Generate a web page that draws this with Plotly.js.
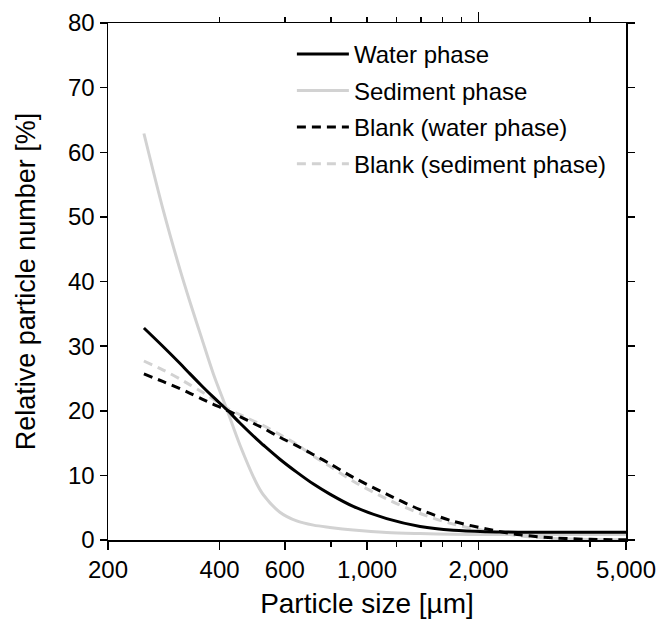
<!DOCTYPE html>
<html>
<head>
<meta charset="utf-8">
<script src="https://cdn.plot.ly/plotly-3.0.1.min.js"></script>
<style>html,body{margin:0;padding:0;background:#fff;}#chart{width:660px;height:622px;}</style>
</head>
<body>
<div id="chart"></div>
<script>
// Particle size [µm]
const sizes = [250, 282, 313, 333, 359, 385, 418, 454, 504, 525, 582, 646, 717, 794, 918, 1130, 1391, 1710, 2104, 2590, 3200, 4000, 5000];

// Relative particle number [%]
const waterPhase    = [32.8, 29.9, 27.3, 25.7, 23.8, 22.1, 20.2, 18.1, 15.6, 14.7, 12.5, 10.5, 8.65, 7.1, 5.2, 3.3, 2.1, 1.5, 1.28, 1.21, 1.2, 1.2, 1.2];
const sedimentPhase = [62.9, 51.0, 41.8, 36.8, 31.0, 25.7, 20.3, 14.7, 8.7, 7.0, 4.3, 2.95, 2.3, 1.95, 1.55, 1.16, 1.0, 0.9, 0.85, 0.85, 0.85, 0.85, 0.85];
const blankWater    = [25.7, 24.5, 23.4, 22.7, 21.8, 21.0, 20.1, 19.1, 17.8, 17.3, 15.9, 14.6, 13.2, 11.8, 9.7, 7.1, 4.7, 2.9, 1.7, 0.8, 0.32, 0.1, 0.03];
const blankSediment = [27.7, 26.3, 24.9, 24.0, 22.9, 21.8, 20.4, 19.4, 18.2, 17.7, 16.3, 14.8, 13.0, 11.4, 9.1, 6.35, 4.1, 2.45, 1.4, 0.65, 0.25, 0.08, 0.03];

const seriesNames = ['Water phase', 'Sediment phase', 'Blank (water phase)', 'Blank (sediment phase)'];

const xTickVals = [200, 400, 600, 1000, 2000, 5000];
const xTickText = ['200', '400', '600', '1,000', '2,000', '5,000'];
const xMinorVals = [800, 1200, 1400, 1600, 1800, 4000];
const xTopTickVals = [2000];
const xTopMinorVals = [400, 600, 800, 1000, 1200, 1400, 1600, 1800, 4000];
const xRange = [200, 5000];
const yRange = [0, 80];

const gray = '#d2d2d2';
const lineW = 3;
const smooth = {shape: 'spline', smoothing: 0.9};

const traces = [
  {x: sizes, y: waterPhase, name: seriesNames[0], mode: 'lines',
   line: Object.assign({color: '#000', width: lineW}, smooth)},
  {x: sizes, y: sedimentPhase, name: seriesNames[1], mode: 'lines',
   line: Object.assign({color: gray, width: lineW}, smooth)},
  {x: sizes, y: blankWater, name: seriesNames[2], mode: 'lines',
   line: Object.assign({color: '#000', width: lineW, dash: '9px,6px'}, smooth)},
  {x: sizes, y: blankSediment, name: seriesNames[3], mode: 'lines',
   line: Object.assign({color: gray, width: lineW, dash: '9px,6px'}, smooth)}
];
traces.forEach((t, i) => { t.legendgroup = 'g' + i; t.legendrank = i + 1; t.hoverinfo = 'skip'; });
// draw the grey lines first so the black lines lie on top
const order = [traces[1], traces[3], traces[0], traces[2]];
// invisible helper so the top (mirrored) axis gets drawn
order.push({x: xRange, y: yRange, xaxis: 'x2', yaxis: 'y', mode: 'markers',
            marker: {opacity: 0}, showlegend: false, hoverinfo: 'skip'});

const font = {family: '"Liberation Sans", Arial, sans-serif', color: '#000'};

const layout = {
  width: 660, height: 622,
  margin: {l: 108, r: 34, t: 23, b: 82},
  paper_bgcolor: '#fff', plot_bgcolor: '#fff',
  font: Object.assign({size: 24}, font),
  showlegend: true,
  legend: {
    x: 0.355, y: 0.983, xanchor: 'left', yanchor: 'top',
    bgcolor: 'rgba(0,0,0,0)', borderwidth: 0,
    font: Object.assign({size: 24}, font),
    itemwidth: 52, traceorder: 'grouped', tracegroupgap: 2.4
  },
  xaxis: {
    type: 'log', range: xRange.map(Math.log10),
    tickmode: 'array', tickvals: xTickVals, ticktext: xTickText,
    ticks: 'outside', ticklen: 8, tickwidth: 1.5, tickcolor: '#000',
    minor: {tickmode: 'array', tickvals: xMinorVals, ticks: 'outside', ticklen: 5, tickwidth: 1.5, tickcolor: '#000', showgrid: false},
    showline: true, linecolor: '#000', linewidth: 1.5, mirror: false,
    showgrid: false, zeroline: false,
    tickfont: Object.assign({size: 24}, font),
    title: {text: 'Particle size [µm]', font: Object.assign({size: 28}, font), standoff: 11}
  },
  xaxis2: {
    type: 'log', range: xRange.map(Math.log10), overlaying: 'x', side: 'top', anchor: 'y',
    tickmode: 'array', tickvals: xTopTickVals, showticklabels: false,
    ticks: 'outside', ticklen: 10, tickwidth: 1.5, tickcolor: '#000',
    minor: {tickmode: 'array', tickvals: xTopMinorVals, ticks: 'outside', ticklen: 5, tickwidth: 1.5, tickcolor: '#000', showgrid: false},
    showline: true, linecolor: '#000', linewidth: 1.5,
    showgrid: false, zeroline: false
  },
  yaxis: {
    range: yRange, dtick: 10, tick0: 0,
    ticks: 'outside', ticklen: 7, tickwidth: 1.5, tickcolor: '#000',
    showline: true, linecolor: '#000', linewidth: 1.5, mirror: 'ticks',
    showgrid: false, zeroline: false,
    tickfont: Object.assign({size: 24}, font),
    title: {text: 'Relative particle number [%]', font: Object.assign({size: 27}, font), standoff: 24}
  }
};

Plotly.newPlot('chart', order, layout, {displayModeBar: false, staticPlot: true});
</script>
</body>
</html>
